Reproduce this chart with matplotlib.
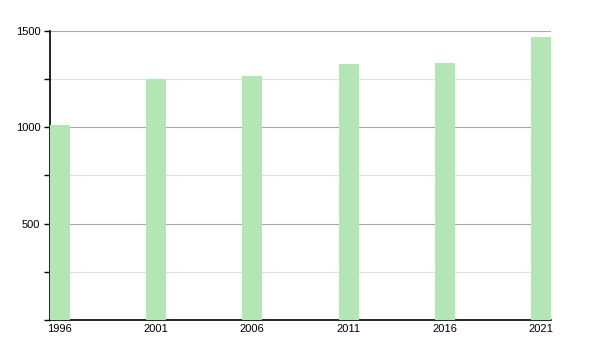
import matplotlib
matplotlib.use('Agg')
import matplotlib.pyplot as plt
from matplotlib.ticker import MultipleLocator

years = [1996, 2001, 2006, 2011, 2016, 2021]
population = [1010, 1248, 1268, 1326, 1331, 1466]

plt.rcParams['font.family'] = ['Liberation Sans', 'DejaVu Sans']

fig = plt.figure(figsize=(6, 3.5), dpi=100)
ax = fig.add_axes([0.0833, 0.0857, 0.835, 0.826])

ax.bar(years, population, width=1.05, color='#b3e6b3', zorder=3)

ax.set_xlim(1995.5, 2021.5)
ax.set_ylim(0, 1500)
ax.set_xticks(years)
ax.set_xticklabels([str(y) for y in years])
ax.yaxis.set_major_locator(MultipleLocator(500))
ax.yaxis.set_minor_locator(MultipleLocator(250))
ax.set_yticks([500, 1000, 1500])

ax.grid(axis='y', which='major', color='#aaaaaa', linewidth=0.8, zorder=1)
ax.grid(axis='y', which='minor', color='#e0e0e0', linewidth=0.8, zorder=1)

ax.spines['top'].set_visible(False)
ax.spines['right'].set_visible(False)
ax.spines['left'].set_linewidth(1.2)
ax.spines['bottom'].set_linewidth(1.2)

ax.tick_params(axis='x', length=0, labelsize=8, pad=3)
ax.tick_params(axis='y', which='both', length=4, width=1, labelsize=8, pad=3)

fig.savefig('out.png', dpi=100)
